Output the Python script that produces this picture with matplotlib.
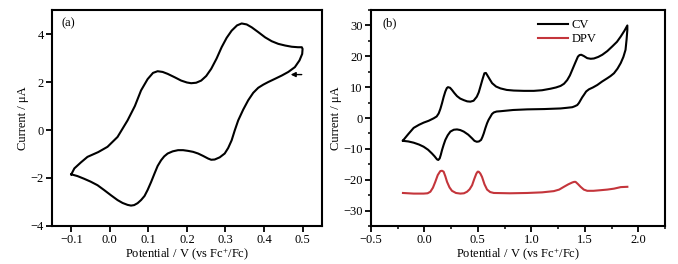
import matplotlib.pyplot as plt
from matplotlib.ticker import MultipleLocator

plt.rcParams['font.family'] = ['Liberation Serif', 'DejaVu Serif']
plt.rcParams['font.size'] = 9
plt.rcParams['mathtext.fontset'] = 'custom'
plt.rcParams['mathtext.rm'] = 'Liberation Serif'
plt.rcParams['mathtext.it'] = 'Liberation Serif:italic'

# (a) CV, forward (oxidation) branch then reverse branch
cv_a_x = [-0.1, -0.092, -0.075, -0.058, -0.03, -0.006, 0.02, 0.046, 0.065, 0.081, 0.098,
          0.112, 0.124, 0.137, 0.150, 0.168, 0.185, 0.200, 0.211, 0.224, 0.237, 0.250,
          0.263, 0.277, 0.290, 0.303, 0.316, 0.330, 0.342, 0.355, 0.368, 0.385, 0.403,
          0.420, 0.437, 0.455, 0.472, 0.488, 0.498, 0.5,
          0.499, 0.492, 0.48, 0.463, 0.446, 0.428, 0.411, 0.398, 0.385, 0.372, 0.359,
          0.346, 0.333, 0.324, 0.316, 0.307, 0.298, 0.285, 0.272, 0.263, 0.255, 0.242,
          0.229, 0.216, 0.203, 0.19, 0.177, 0.163, 0.15, 0.141, 0.133, 0.124, 0.116,
          0.107, 0.098, 0.09, 0.081, 0.072, 0.063, 0.055, 0.046, 0.033, 0.020, 0.003,
          -0.015, -0.032, -0.050, -0.067, -0.084, -0.095, -0.1]
cv_a_y = [-1.85, -1.60, -1.35, -1.12, -0.92, -0.70, -0.29, 0.40, 1.00, 1.65, 2.12,
          2.38, 2.45, 2.42, 2.34, 2.20, 2.06, 1.98, 1.95, 1.97, 2.06, 2.25,
          2.55, 2.98, 3.45, 3.84, 4.14, 4.36, 4.44, 4.40, 4.28, 4.08, 3.86,
          3.70, 3.59, 3.52, 3.47, 3.45, 3.45, 3.38,
          3.17, 2.90, 2.62, 2.42, 2.27, 2.13, 2.00, 1.89, 1.76, 1.55, 1.24,
          0.85, 0.40, -0.02, -0.43, -0.75, -0.98, -1.14, -1.23, -1.24, -1.19, -1.08,
          -0.98, -0.91, -0.87, -0.84, -0.84, -0.89, -0.98, -1.10, -1.26, -1.50, -1.81,
          -2.17, -2.50, -2.75, -2.92, -3.05, -3.13, -3.15, -3.12, -3.04, -2.92, -2.72,
          -2.50, -2.30, -2.15, -2.03, -1.92, -1.87, -1.85]

# (b) CV
cv_b_x = [-0.2, -0.15, -0.1, -0.05, -0.007, 0.04, 0.087, 0.115, 0.134, 0.150, 0.165,
          0.180, 0.196, 0.210, 0.221, 0.240, 0.258, 0.280, 0.305, 0.335, 0.368, 0.400,
          0.43, 0.46, 0.49, 0.508, 0.524, 0.543, 0.561, 0.575, 0.586, 0.610, 0.633,
          0.670, 0.711, 0.770, 0.836, 0.930, 1.023, 1.10, 1.18, 1.23, 1.273, 1.305,
          1.335, 1.360, 1.382, 1.410, 1.435, 1.450, 1.466, 1.490, 1.522, 1.555, 1.585,
          1.625, 1.663, 1.710, 1.756, 1.800, 1.835, 1.870, 1.897,
          1.897, 1.890, 1.880, 1.860, 1.835, 1.805, 1.772, 1.74, 1.71, 1.66, 1.616,
          1.575, 1.538, 1.512, 1.491, 1.475, 1.46, 1.445, 1.429, 1.405, 1.382, 1.33,
          1.273, 1.12, 0.961, 0.83, 0.711, 0.675, 0.649, 0.632, 0.617, 0.600, 0.586,
          0.570, 0.555, 0.542, 0.53, 0.51, 0.49, 0.468, 0.446, 0.41, 0.368, 0.335,
          0.305, 0.275, 0.243, 0.218, 0.196, 0.180, 0.165, 0.153, 0.143, 0.130, 0.118,
          0.095, 0.071, 0.035, -0.007, -0.05, -0.1, -0.15, -0.2]
cv_b_y = [-7.3, -5.2, -3.2, -2.2, -1.5, -0.9, -0.1, 0.5, 1.5, 3.0, 4.8,
          6.8, 8.6, 9.7, 10.0, 9.8, 9.1, 8.1, 7.1, 6.3, 5.8, 5.4,
          5.3, 5.6, 6.9, 8.3, 10.2, 12.5, 14.5, 14.6, 14.0, 12.6, 11.3,
          10.2, 9.6, 9.1, 8.9, 8.8, 8.8, 9.0, 9.5, 9.9, 10.4, 11.1,
          12.3, 13.8, 15.6, 17.9, 19.9, 20.4, 20.5, 20.1, 19.4, 19.2, 19.3,
          19.8, 20.5, 21.7, 23.2, 24.7, 26.4, 28.3, 30.0,
          28.6, 25.5, 22.1, 19.8, 17.8, 16.0, 14.5, 13.6, 12.9, 11.8, 10.7,
          9.9, 9.3, 8.6, 7.5, 6.7, 5.8, 4.9, 4.2, 3.8, 3.5, 3.3,
          3.1, 2.9, 2.8, 2.6, 2.2, 2.1, 1.8, 1.3, 0.4, -0.6, -1.7,
          -3.3, -5.0, -6.2, -7.1, -7.6, -7.7, -7.4, -6.6, -5.4, -4.4, -3.9,
          -3.7, -3.8, -4.4, -5.6, -7.1, -8.7, -10.4, -12.0, -13.1, -13.6, -13.4,
          -12.4, -11.5, -10.3, -9.3, -8.6, -8.0, -7.6, -7.4]

# (b) DPV
dpv_x = [-0.2, -0.1, -0.007, 0.03, 0.056, 0.080, 0.102, 0.125, 0.149, 0.165, 0.18,
         0.196, 0.212, 0.235, 0.258, 0.295, 0.336, 0.370, 0.399, 0.423, 0.446, 0.466,
         0.486, 0.498, 0.508, 0.523, 0.539, 0.562, 0.586, 0.615, 0.649, 0.80, 0.961,
         1.10, 1.21, 1.26, 1.304, 1.345, 1.382, 1.400, 1.413, 1.435, 1.46, 1.49, 1.522,
         1.58, 1.647, 1.71, 1.772, 1.81, 1.835, 1.897]
dpv_y = [-24.3, -24.5, -24.5, -24.4, -23.9, -22.6, -20.7, -18.5, -17.2, -17.1, -17.4,
         -18.9, -20.7, -22.5, -23.6, -24.3, -24.5, -24.4, -23.9, -23.1, -21.8, -19.8,
         -18.0, -17.4, -17.4, -18.0, -19.1, -21.5, -23.2, -24.0, -24.3, -24.4, -24.3,
         -24.1, -23.7, -23.2, -22.3, -21.5, -20.9, -20.7, -20.7, -21.4, -22.3, -23.2, -23.6,
         -23.6, -23.4, -23.2, -22.9, -22.6, -22.4, -22.3]

red = '#c4353b'
xlabel = 'Potential / V (vs Fc$^{+}$/Fc)'
ylabel = 'Current / \u03bcA'

fig = plt.figure(figsize=(6.78, 2.64), dpi=100)
ax1 = fig.add_axes([0.0767, 0.144, 0.398, 0.818])
ax2 = fig.add_axes([0.547, 0.144, 0.434, 0.818])

for ax in (ax1, ax2):
    for s in ax.spines.values():
        s.set_linewidth(1.5)
    ax.tick_params(direction='out', width=1.3, length=4, pad=2, labelsize=9)
    ax.tick_params(which='minor', direction='out', width=1.1, length=2.5)
    ax.set_xlabel(xlabel, fontsize=9, labelpad=0)
    ax.set_ylabel(ylabel, fontsize=9, labelpad=1)

ax1.plot(cv_a_x, cv_a_y, color='black', lw=1.5)
ax1.set_xlim(-0.15, 0.55)
ax1.set_ylim(-4, 5)
ax1.set_xticks([-0.1, 0.0, 0.1, 0.2, 0.3, 0.4, 0.5])
ax1.set_yticks([-4, -2, 0, 2, 4])
ax1.text(0.037, 0.94, '(a)', transform=ax1.transAxes, fontsize=9, va='center')
ax1.annotate('', xy=(0.462, 2.31), xytext=(0.505, 2.31),
             arrowprops=dict(arrowstyle='-|>', color='black', lw=1.0,
                             mutation_scale=7))

ax2.plot(cv_b_x, cv_b_y, color='black', lw=1.5, label='CV')
ax2.plot(dpv_x, dpv_y, color=red, lw=1.5, label='DPV')
ax2.set_xlim(-0.5, 2.25)
ax2.set_ylim(-35, 35)
ax2.set_xticks([-0.5, 0.0, 0.5, 1.0, 1.5, 2.0])
ax2.set_yticks([-30, -20, -10, 0, 10, 20, 30])
ax2.xaxis.set_minor_locator(MultipleLocator(0.25))
ax2.yaxis.set_minor_locator(MultipleLocator(5))
ax2.text(0.04, 0.94, '(b)', transform=ax2.transAxes, fontsize=9, va='center')
ax2.legend(loc='upper left', bbox_to_anchor=(0.53, 1.01), frameon=False,
           handlelength=2.4, labelspacing=0.15, handletextpad=0.3, fontsize=9)

fig.savefig('out.png', dpi=100)
